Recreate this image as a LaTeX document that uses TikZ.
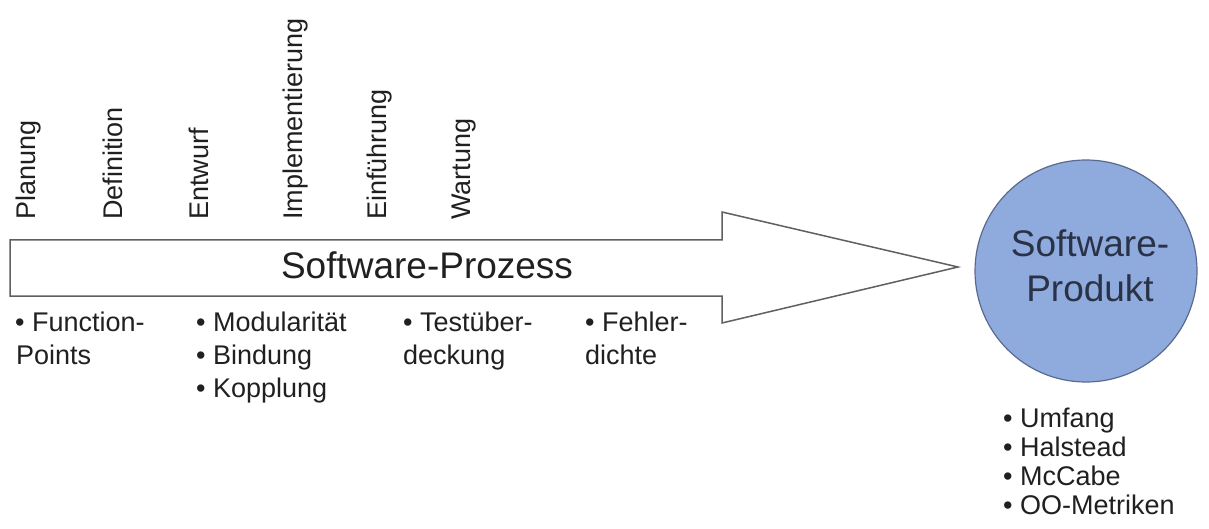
\documentclass[tikz,border=0pt]{standalone}
\usepackage{fontspec}
\setmainfont{Liberation Sans}
\definecolor{arrowline}{HTML}{606060}
\definecolor{prodfill}{HTML}{8FAADC}
\definecolor{prodline}{HTML}{5A6A8E}
\definecolor{prodtext}{HTML}{2A3248}
\definecolor{txt}{HTML}{202020}
\begin{document}
\begin{tikzpicture}[x=1pt,y=-1pt,
  phase/.style={rotate=90,anchor=base west,inner sep=0pt,text=txt,font=\fontsize{27}{32}\selectfont},
  item/.style={anchor=base west,inner sep=0pt,text=txt,font=\fontsize{27}{32}\selectfont},
  bigtext/.style={inner sep=0pt,font=\fontsize{37}{44}\selectfont}]
\useasboundingbox (0,0) rectangle (1209,529);
\fill[white] (0,0) rectangle (1209,529);
% process arrow
\draw[arrowline,line width=1.5pt,fill=white,line join=miter]
  (10,240) -- (722,240) -- (722,212) -- (958,267) coordinate (tip)
  -- (722,323) -- (722,296) -- (10,296) -- cycle;
\node[bigtext,anchor=base,text=txt] (proz) at (427,278) {Software-Prozess};
% product circle
\node[circle,draw=prodline,line width=1.2pt,fill=prodfill,minimum size=222pt,inner sep=0pt] (prod) at (1086,271) {};
\node[bigtext,anchor=base,text=prodtext] (prod1) at (1090,257) {Software-};
\node[bigtext,anchor=base,text=prodtext] (prod2) at (1090,301) {Produkt};
% phases
\node[phase] (p1) at (35,220) {Planung};
\node[phase] (p2) at (122,220) {Definition};
\node[phase] (p3) at (208,220) {Entwurf};
\node[phase] (p4) at (302,220) {Implementierung};
\node[phase] (p5) at (386,220) {Einführung};
\node[phase] (p6) at (470,220) {Wartung};
% process metrics
\node[item] (m1a) at (15,331) {• Function-};
\node[item] (m1b) at (16,364) {Points};
\node[item] (m2a) at (196,331) {• Modularität};
\node[item] (m2b) at (196,364) {• Bindung};
\node[item] (m2c) at (196,397) {• Kopplung};
\node[item] (m3a) at (403,331) {• Testüber-};
\node[item] (m3b) at (403,364) {deckung};
\node[item] (m4a) at (585,331) {• Fehler-};
\node[item] (m4b) at (585,364) {dichte};
% product metrics
\node[item] (r1) at (1003,427) {• Umfang};
\node[item] (r2) at (1003,456) {• Halstead};
\node[item] (r3) at (1003,485) {• McCabe};
\node[item] (r4) at (1003,514) {• OO-Metriken};
\end{tikzpicture}
\end{document}
